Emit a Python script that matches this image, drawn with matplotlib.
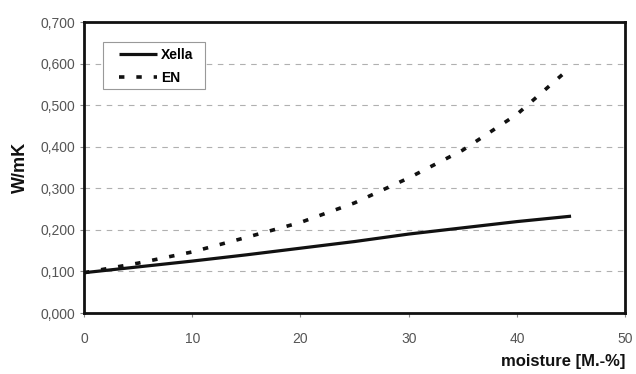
import matplotlib
matplotlib.use("Agg")
import matplotlib.pyplot as plt
from matplotlib.ticker import FuncFormatter
from matplotlib.patches import Rectangle

moisture = [0, 5, 10, 15, 20, 25, 30, 35, 40, 45]
xella = [0.097, 0.111, 0.125, 0.140, 0.156, 0.172, 0.190, 0.205, 0.220, 0.233]
en = [0.097, 0.120, 0.147, 0.182, 0.218, 0.265, 0.325, 0.392, 0.478, 0.592]
yticks = [0.0, 0.1, 0.2, 0.3, 0.4, 0.5, 0.6, 0.7]
xticks = [0, 10, 20, 30, 40, 50]

plt.rcParams['font.family'] = ['Liberation Sans', 'DejaVu Sans']

fig = plt.figure(figsize=(6.36, 3.74), dpi=100)
ax = fig.add_axes([0.132, 0.163, 0.851, 0.778])

ax.plot(moisture, xella, color='#111111', lw=2.3, solid_capstyle='butt', label='Xella')
ax.plot(moisture, en, color='#111111', lw=2.6, dashes=(1.5, 3.3), dash_capstyle='butt', label='EN')

ax.set_xlim(0, 50)
ax.set_ylim(0, 0.7)
ax.set_xticks(xticks)
ax.set_yticks(yticks)
ax.yaxis.set_major_formatter(FuncFormatter(lambda v, p: f"{v:.3f}".replace('.', ',')))
ax.tick_params(axis='both', labelsize=10, labelcolor='#555555', color='#888888', length=3, width=0.8)
ax.tick_params(axis='x', pad=11)
ax.grid(axis='y', color='#b0b0b0', ls=(0, (5, 5)), lw=0.8)
ax.set_axisbelow(True)
for s in ax.spines.values():
    s.set_linewidth(2)
    s.set_color('#111111')

ax.set_ylabel('W/mK', fontsize=13, fontweight='bold', color='#111111', labelpad=8)
ax.set_xlabel('moisture [M.-%]', fontsize=12, fontweight='bold', color='#111111')
ax.xaxis.set_label_coords(1.0, -0.14)
ax.xaxis.label.set_horizontalalignment('right')

# legend frame drawn separately
ax.add_patch(Rectangle((0.0351, 0.7698), 0.1886, 0.1615, transform=ax.transAxes,
                       facecolor='white', edgecolor='#999999', lw=0.8, zorder=4))
leg = ax.legend(loc='upper left', bbox_to_anchor=(0.0647, 0.9107), borderaxespad=0, frameon=False,
                handlelength=2.73, handletextpad=0.3,
                prop={'weight': 'bold', 'size': 10}, borderpad=0, labelspacing=0.65)
leg.set_zorder(5)

fig.savefig('out.png', dpi=100)
